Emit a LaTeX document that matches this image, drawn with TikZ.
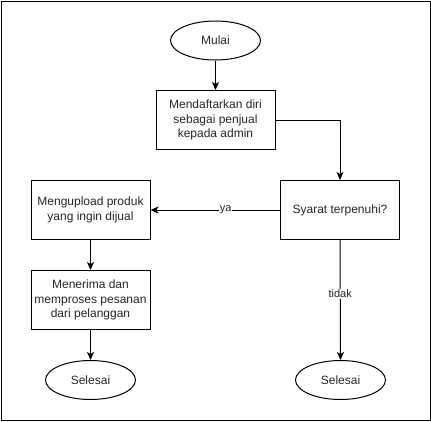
\documentclass[tikz,border=0pt]{standalone}
\usepackage{fontspec}
\setmainfont{Liberation Sans}
\usetikzlibrary{shapes.geometric,arrows.meta}
\begin{document}
\begin{tikzpicture}[x=1pt,y=-1pt,
  every node/.style={font=\fontsize{12}{14.5}\selectfont, text=black!85},
  proc/.style={draw, line width=1pt, minimum width=119pt, minimum height=59pt, align=center, inner sep=0pt},
  term/.style={draw, line width=1pt, ellipse, minimum width=90pt, minimum height=39pt, inner sep=0pt},
  conn/.style={line width=1pt, -{Stealth[length=8pt,width=7pt,inset=2pt]}},
  lbl/.style={fill=white, inner sep=1pt, font=\fontsize{11}{13}\selectfont}]
\useasboundingbox (0,0) rectangle (431,421);
\draw[line width=1pt] (1,1) rectangle (430,420);
\node[term] (start) at (215.5,40.5) {Mulai};
\node[proc] (daftar) at (215.5,120) {Mendaftarkan diri\\sebagai penjual\\kepada admin};
\node[proc] (syarat) at (340,210) {Syarat terpenuhi?};
\node[proc] (upload) at (90.5,210) {Mengupload produk\\yang ingin dijual};
\node[proc] (terima) at (90.5,300) {Menerima dan\\memproses pesanan\\dari pelanggan};
\node[term] (endL) at (90.5,380) {Selesai};
\node[term] (endR) at (340.5,380) {Selesai};
\draw[conn] (start) -- (daftar);
\draw[conn] (daftar.east) -| (syarat.north);
\draw[conn] (syarat.west) -- node[lbl, pos=0.42] {ya} (upload.east);
\draw[conn] (upload) -- (terima);
\draw[conn] (terima) -- (endL);
\draw[conn] (syarat.south) -- node[lbl, pos=0.45] {tidak} (endR.north);
\end{tikzpicture}
\end{document}
